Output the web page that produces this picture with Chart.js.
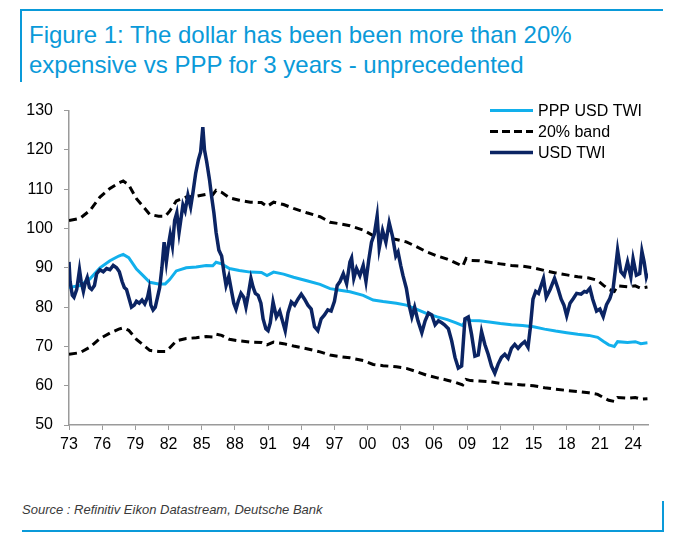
<!DOCTYPE html>
<html>
<head>
<meta charset="utf-8">
<script src="https://cdn.jsdelivr.net/npm/chart.js@4.4.1/dist/chart.umd.min.js"></script>
<style>
    html, body { margin: 0; padding: 0; background: #fff; }
    body { width: 676px; height: 541px; position: relative; overflow: hidden; font-family: "Liberation Sans", Arial, sans-serif; }
    .rule { position: absolute; background: #0a9ad9; }
    #title { position: absolute; left: 29px; top: 20px; font-size: 24px; line-height: 30px; color: #0a9ad9; white-space: nowrap; }
    #source { position: absolute; left: 22px; top: 502px; font-size: 13px; font-style: italic; color: #3a3a3a; white-space: nowrap; }
    #chartBox { position: absolute; left: 0; top: 90px; }
</style>
</head>
<body>
<div class="rule" style="left:20px; top:9px; width:643px; height:2px;"></div>
<div class="rule" style="left:20px; top:9px; width:2px; height:73px;"></div>
<div class="rule" style="left:22px; top:530px; width:642px; height:2px;"></div>
<div class="rule" style="left:662px; top:501px; width:2px; height:31px;"></div>

<div id="title">Figure 1: The dollar has been been more than 20%<br>expensive vs PPP for 3 years - unprecedented</div>

<div id="chartBox"><canvas id="dollarChart" width="676" height="380"></canvas></div>

<div id="source">Source : Refinitiv Eikon Datastream, Deutsche Bank</div>

<script>
// Dates as fractional years
const twiYears = [
    1973.0, 1973.1, 1973.3, 1973.45, 1973.7, 1973.95, 1974.1, 1974.3, 1974.45, 1974.65,
    1974.85, 1975.05, 1975.3, 1975.5, 1975.8, 1976.1, 1976.4, 1976.7, 1977.0, 1977.3,
    1977.55, 1977.8, 1978.0, 1978.2, 1978.45, 1978.65, 1978.9, 1979.1, 1979.35, 1979.6,
    1979.85, 1980.1, 1980.25, 1980.4, 1980.6, 1980.8, 1981.0, 1981.2, 1981.4, 1981.6,
    1981.8, 1982.0, 1982.15, 1982.35, 1982.55, 1982.75, 1982.95, 1983.1, 1983.3, 1983.5,
    1983.75, 1984.0, 1984.2, 1984.45, 1984.7, 1984.9, 1985.1, 1985.25, 1985.45, 1985.7,
    1985.9, 1986.1, 1986.3, 1986.55, 1986.8, 1987.0, 1987.2, 1987.45, 1987.7, 1987.9,
    1988.1, 1988.3, 1988.55, 1988.8, 1989.0, 1989.2, 1989.45, 1989.65, 1989.85, 1990.1,
    1990.35, 1990.55, 1990.8, 1991.0, 1991.2, 1991.45, 1991.75, 1992.05, 1992.3, 1992.55,
    1992.8, 1993.1, 1993.4, 1993.7, 1994.0, 1994.3, 1994.6, 1994.9, 1995.2, 1995.5,
    1995.8, 1996.1, 1996.4, 1996.7, 1997.0, 1997.25, 1997.5, 1997.8, 1998.1, 1998.4,
    1998.55, 1998.75, 1999.0, 1999.3, 1999.6, 1999.85, 2000.1, 2000.35, 2000.6, 2000.86,
    2001.05, 2001.35, 2001.65, 2001.95, 2002.25, 2002.55, 2002.75, 2003.0, 2003.2, 2003.5,
    2003.75, 2004.0, 2004.25, 2004.55, 2004.9, 2005.2, 2005.5, 2005.8, 2006.1, 2006.4,
    2006.7, 2006.95, 2007.3, 2007.6, 2007.9, 2008.2, 2008.5, 2008.8, 2009.1, 2009.4,
    2009.7, 2010.0, 2010.3, 2010.6, 2010.9, 2011.2, 2011.5, 2011.8, 2012.1, 2012.4,
    2012.7, 2013.0, 2013.3, 2013.6, 2013.9, 2014.2, 2014.5, 2014.7, 2014.95, 2015.2,
    2015.45, 2015.9, 2016.15, 2016.5, 2016.9, 2017.2, 2017.5, 2017.75, 2018.0, 2018.3,
    2018.6, 2018.9, 2019.3, 2019.6, 2019.8, 2020.1, 2020.35, 2020.7, 2021.0, 2021.3,
    2021.6, 2021.9, 2022.2, 2022.4, 2022.6, 2022.9, 2023.2, 2023.5, 2023.8, 2024.0,
    2024.3, 2024.6, 2024.8, 2025.0, 2025.2, 2025.3
];
const twiValues = [
    91.5, 86.5, 83.0, 82.5, 84.5, 89.5, 86.5, 84.0, 86.0, 87.5,
    85.0, 84.5, 85.5, 88.5, 89.5, 89.0, 89.8, 89.5, 90.6, 90.0,
    89.0, 86.5, 85.0, 84.5, 82.0, 80.0, 80.5, 81.5, 81.0, 81.8,
    80.8, 82.5, 84.5, 80.5, 79.3, 80.0, 82.5, 85.0, 90.0, 96.5,
    91.5, 96.0, 98.5, 95.5, 102.0, 104.0, 99.0, 102.0, 106.0, 104.5,
    108.5, 105.5, 109.0, 114.0, 117.5, 119.5, 125.8, 120.0, 117.0, 112.5,
    108.0, 104.0, 99.0, 94.5, 93.0, 89.0, 85.5, 87.8, 84.0, 81.0,
    79.5, 81.5, 83.5, 82.5, 80.0, 83.0, 87.3, 85.0, 83.5, 83.0,
    81.0, 77.0, 74.5, 74.0, 76.0, 81.3, 77.5, 79.0, 76.5, 74.0,
    78.5, 81.3, 80.5, 82.0, 83.3, 82.0, 80.5, 79.5, 75.0, 74.0,
    77.0, 78.0, 79.3, 79.0, 81.5, 85.5, 86.5, 88.5, 86.0, 91.5,
    92.5, 87.3, 89.8, 88.0, 90.6, 86.5, 92.0, 96.5, 98.5, 103.2,
    95.0, 99.5, 96.5, 101.5, 98.0, 93.0, 94.0, 90.5, 88.0, 84.8,
    80.5, 77.5, 80.0, 76.5, 73.5, 76.5, 78.5, 78.0, 75.5, 76.5,
    76.0, 75.5, 74.5, 71.4, 67.2, 64.5, 65.0, 77.0, 77.5, 73.0,
    67.5, 67.8, 73.8, 70.5, 68.0, 65.0, 63.2, 65.5, 67.2, 68.0,
    67.0, 69.5, 70.5, 69.5, 70.5, 71.2, 69.8, 74.5, 82.0, 84.0,
    83.5, 87.3, 82.5, 84.5, 87.3, 84.8, 82.0, 80.5, 77.8, 81.0,
    82.2, 83.5, 83.3, 84.0, 83.8, 84.8, 82.0, 79.0, 79.5, 77.6,
    80.6, 82.2, 84.8, 89.5, 94.5, 89.0, 88.0, 91.5, 87.7, 92.3,
    88.1, 88.5, 94.2, 91.5, 87.7, 88.6
];

const pppYears = [
    1973.0, 1974.0, 1974.9, 1975.8, 1976.7, 1977.5, 1977.9, 1978.4, 1979.1, 1979.7,
    1980.3, 1981.1, 1981.7, 1982.1, 1982.7, 1983.6, 1984.5, 1985.4, 1986.0, 1986.3,
    1986.8, 1987.5, 1988.4, 1989.4, 1990.4, 1990.9, 1991.5, 1992.4, 1993.3, 1994.5,
    1995.7, 1996.6, 1997.5, 1998.4, 1999.6, 2000.5, 2001.4, 2002.6, 2003.5, 2004.4,
    2005.3, 2006.3, 2007.2, 2008.0, 2008.6, 2008.9, 2009.3, 2010.1, 2011.0, 2012.0,
    2013.0, 2014.0, 2015.0, 2016.0, 2017.0, 2018.0, 2019.0, 2020.0, 2020.8, 2021.3,
    2021.8, 2022.3, 2022.6, 2023.5, 2024.2, 2024.7, 2025.3
];
const pppValues = [
    85.0, 85.5, 87.2, 90.0, 91.8, 93.0, 93.4, 92.6, 89.7, 88.0,
    86.3, 85.9, 85.9, 87.0, 89.2, 90.0, 90.2, 90.6, 90.5, 91.4,
    91.0, 89.8, 89.3, 88.9, 88.8, 88.0, 88.9, 88.4, 87.6, 86.7,
    85.8, 84.7, 84.3, 83.9, 83.0, 81.8, 81.4, 81.0, 80.5, 79.5,
    78.4, 77.5, 76.8, 76.0, 75.3, 77.0, 76.6, 76.5, 76.2, 75.8,
    75.5, 75.3, 75.0, 74.4, 73.9, 73.5, 73.1, 72.8, 72.3, 71.3,
    70.4, 70.0, 71.2, 71.0, 71.2, 70.7, 70.9
];
// 20% band, upper and lower, on the PPP dates
const bandUpper = [
    102.0, 102.6, 104.6, 108.0, 110.2, 111.6, 112.1, 111.1, 107.6, 105.6,
    103.6, 103.1, 103.1, 104.4, 107.0, 108.0, 108.2, 108.7, 108.6, 109.7,
    109.2, 107.8, 107.2, 106.7, 106.6, 105.6, 106.7, 106.1, 105.1, 104.0,
    103.0, 101.6, 101.2, 100.7, 99.6, 98.2, 97.7, 97.2, 96.6, 95.4,
    94.1, 93.0, 92.2, 91.2, 90.4, 92.4, 91.9, 91.8, 91.4, 91.0,
    90.6, 90.4, 90.0, 89.3, 88.7, 88.2, 87.7, 87.4, 86.8, 85.6,
    84.5, 84.0, 85.4, 85.2, 85.4, 84.8, 85.1
];
const bandLower = [
    68.0, 68.4, 69.8, 72.0, 73.4, 74.4, 74.7, 74.1, 71.8, 70.4,
    69.0, 68.7, 68.7, 69.6, 71.4, 72.0, 72.2, 72.5, 72.4, 73.1,
    72.8, 71.8, 71.4, 71.1, 71.0, 70.4, 71.1, 70.7, 70.1, 69.4,
    68.6, 67.8, 67.4, 67.1, 66.4, 65.4, 65.1, 64.8, 64.4, 63.6,
    62.7, 62.0, 61.4, 60.8, 60.2, 61.6, 61.3, 61.2, 61.0, 60.6,
    60.4, 60.2, 60.0, 59.5, 59.1, 58.8, 58.5, 58.2, 57.8, 57.0,
    56.3, 56.0, 57.0, 56.8, 57.0, 56.6, 56.7
];

const tickYears = [1973, 1976, 1979, 1982, 1985, 1988, 1991, 1994, 1997, 2000, 2003, 2006, 2009, 2012, 2015, 2018, 2021, 2024];
const legendItems = [
    { label: 'PPP USD TWI', ds: 1 },
    { label: '20% band', ds: 2 },
    { label: 'USD TWI', ds: 0 }
];

function toPoints(xs, ys) {
    return xs.map((x, i) => ({ x: x, y: ys[i] }));
}

Chart.defaults.font.family = '"Liberation Sans", Arial, sans-serif';
Chart.defaults.color = '#000';

// legend drawn inside the plot, top right
const innerLegend = {
    id: 'innerLegend',
    afterDraw(chart) {
        const ctx = chart.ctx;
        const area = chart.chartArea;
        ctx.save();
        ctx.font = '16px "Liberation Sans", Arial, sans-serif';
        ctx.textBaseline = 'middle';
        ctx.fillStyle = '#000';
        legendItems.forEach((item, i) => {
            const ds = chart.data.datasets[item.ds];
            const y = area.top + i * 21;
            ctx.strokeStyle = ds.borderColor;
            ctx.lineWidth = ds.borderWidth;
            ctx.setLineDash(ds.borderDash ? [8, 4] : []);
            ctx.beginPath();
            ctx.moveTo(area.right - 158, y);
            ctx.lineTo(area.right - 115, y);
            ctx.stroke();
            ctx.fillText(item.label, area.right - 110, y + 1);
        });
        ctx.restore();
    }
};

const ctx = document.getElementById('dollarChart').getContext('2d');
new Chart(ctx, {
    type: 'line',
    data: {
        datasets: [
            {
                label: 'USD TWI',
                data: toPoints(twiYears, twiValues),
                borderColor: '#0b2463',
                borderWidth: 3.5,
                pointRadius: 0,
                tension: 0,
                order: 0
            },
            {
                label: 'PPP USD TWI',
                data: toPoints(pppYears, pppValues),
                borderColor: '#12b0ec',
                borderWidth: 3,
                pointRadius: 0,
                tension: 0,
                order: 1
            },
            {
                label: '20% band',
                data: toPoints(pppYears, bandUpper),
                borderColor: '#000',
                borderWidth: 3,
                borderDash: [8, 5],
                pointRadius: 0,
                tension: 0,
                order: 2
            },
            {
                label: '20% band lower',
                data: toPoints(pppYears, bandLower),
                borderColor: '#000',
                borderWidth: 3,
                borderDash: [8, 5],
                pointRadius: 0,
                tension: 0,
                order: 3
            }
        ]
    },
    options: {
        responsive: false,
        animation: false,
        layout: { padding: { top: 17, right: 28, bottom: 10, left: 0 } },
        plugins: {
            legend: { display: false },
            tooltip: { enabled: false }
        },
        scales: {
            x: {
                type: 'linear',
                min: 1973,
                max: 2025.35,
                afterBuildTicks: (scale) => { scale.ticks = tickYears.map(v => ({ value: v })); },
                afterFit: (scale) => { scale.height = 35; },
                grid: { drawOnChartArea: false, drawTicks: true, tickLength: 5, color: '#9a9a9a' },
                border: { color: '#9a9a9a', width: 1.5 },
                ticks: {
                    font: { size: 16 },
                    padding: 5,
                    maxRotation: 0,
                    autoSkip: false,
                    callback: (v) => String(v % 100).padStart(2, '0')
                }
            },
            y: {
                min: 50,
                max: 130,
                afterFit: (scale) => { scale.width = 69; },
                grid: { drawOnChartArea: false, drawTicks: true, tickLength: 5, color: '#9a9a9a' },
                border: { color: '#9a9a9a', width: 1.5 },
                ticks: { stepSize: 10, font: { size: 16 }, padding: 11 }
            }
        }
    },
    plugins: [innerLegend]
});
</script>
</body>
</html>
